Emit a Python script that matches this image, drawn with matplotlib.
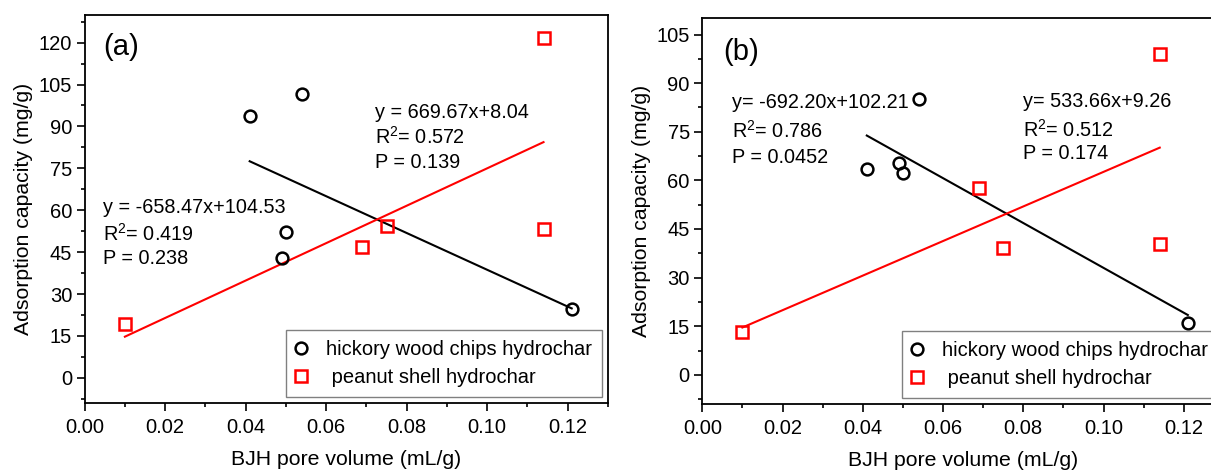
import numpy as np
import matplotlib
matplotlib.use("Agg")
import matplotlib.pyplot as plt
from matplotlib.ticker import MultipleLocator

plt.rcParams['font.family'] = ['Liberation Sans', 'DejaVu Sans']
plt.rcParams['mathtext.default'] = 'regular'

# panel (a)
a_hickory_x = [0.041, 0.054, 0.050, 0.049, 0.121]
a_hickory_y = [93.6, 101.7, 52.1, 42.8, 24.5]
a_peanut_x = [0.010, 0.069, 0.075, 0.114, 0.114]
a_peanut_y = [19.2, 46.9, 54.5, 121.6, 53.3]
a_hickory_fit = (-658.47, 104.53)
a_peanut_fit = (669.67, 8.04)
a_hickory_text = ["y = -658.47x+104.53", "R$^2$= 0.419", "P = 0.238"]
a_peanut_text = ["y = 669.67x+8.04", "R$^2$= 0.572", "P = 0.139"]

# panel (b)
b_hickory_x = [0.041, 0.049, 0.050, 0.054, 0.121]
b_hickory_y = [63.5, 65.5, 62.2, 85.0, 15.9]
b_peanut_x = [0.010, 0.069, 0.075, 0.114, 0.114]
b_peanut_y = [13.2, 57.6, 39.2, 99.1, 40.3]
b_hickory_fit = (-692.20, 102.21)
b_peanut_fit = (533.66, 9.26)
b_hickory_text = ["y= -692.20x+102.21", "R$^2$= 0.786", "P = 0.0452"]
b_peanut_text = ["y= 533.66x+9.26", "R$^2$= 0.512", "P = 0.174"]

hickory_range = [0.041, 0.121]
peanut_range = [0.010, 0.114]

fig = plt.figure(figsize=(12.11, 4.71), dpi=100)
ax1 = fig.add_axes([0.0699, 0.1444, 0.4321, 0.8244])
ax2 = fig.add_axes([0.5799, 0.1423, 0.4308, 0.8188])


def draw_panel(ax, hx, hy, px, py, hfit, pfit, ylim, ymajor, ytop):
    xr = np.array(hickory_range)
    ax.plot(xr, hfit[0] * xr + hfit[1], color='black', lw=1.5, zorder=2)
    xr = np.array(peanut_range)
    ax.plot(xr, pfit[0] * xr + pfit[1], color='red', lw=1.5, zorder=2)
    ax.plot(hx, hy, 'o', mfc='none', mec='black', mew=1.8, ms=8.5,
            label='hickory wood chips hydrochar', zorder=3)
    ax.plot(px, py, 's', mfc='none', mec='red', mew=1.8, ms=8,
            label=' peanut shell hydrochar', zorder=3)
    ax.set_xlim(0, 0.13)
    ax.set_ylim(*ylim)
    ax.xaxis.set_minor_locator(MultipleLocator(0.01))
    ax.yaxis.set_minor_locator(MultipleLocator(ymajor / 2))
    ax.set_xticks(np.arange(0, 0.121, 0.02))
    ax.set_xticklabels(['%.2f' % v for v in np.arange(0, 0.121, 0.02)])
    ax.set_yticks(np.arange(0, ytop + 1, ymajor))
    ax.tick_params(which='major', direction='out', length=5.5, width=1.2,
                   labelsize=14.5, pad=3.5)
    ax.tick_params(axis='x', which='major', pad=5.5)
    ax.tick_params(which='minor', direction='out', length=3.2, width=1.2)
    for s in ax.spines.values():
        s.set_linewidth(1.3)
    ax.set_xlabel('BJH pore volume (mL/g)', fontsize=15.3, labelpad=9)
    ax.set_ylabel('Adsorption capacity (mg/g)', fontsize=15.3, labelpad=4)
    leg = ax.legend(loc='lower right', fontsize=14.5, handlelength=0.5,
                    handletextpad=1.0, labelspacing=0.45, borderpad=0.5,
                    borderaxespad=0.3, fancybox=False, framealpha=1,
                    edgecolor='#808080')
    leg.get_frame().set_linewidth(1.0)


draw_panel(ax1, a_hickory_x, a_hickory_y, a_peanut_x, a_peanut_y,
           a_hickory_fit, a_peanut_fit, (-9, 130), 15, 120)
draw_panel(ax2, b_hickory_x, b_hickory_y, b_peanut_x, b_peanut_y,
           b_hickory_fit, b_peanut_fit, (-9, 110), 15, 105)


def eq_text(ax, x, ys, lines):
    for y, t in zip(ys, lines):
        ax.text(x, y, t, fontsize=14.3, ha='left', va='center_baseline')


ax1.text(0.0047, 118.4, '(a)', fontsize=21, va='center')
eq_text(ax1, 0.0046, [61.8, 52.2, 43.6], a_hickory_text)
eq_text(ax1, 0.0721, [95.8, 86.9, 77.9], a_peanut_text)

ax2.text(0.0052, 99.5, '(b)', fontsize=21, va='center')
eq_text(ax2, 0.0073, [84.5, 75.8, 67.6], b_hickory_text)
eq_text(ax2, 0.0799, [85.0, 76.3, 68.8], b_peanut_text)

fig.savefig('out.png', dpi=100)
